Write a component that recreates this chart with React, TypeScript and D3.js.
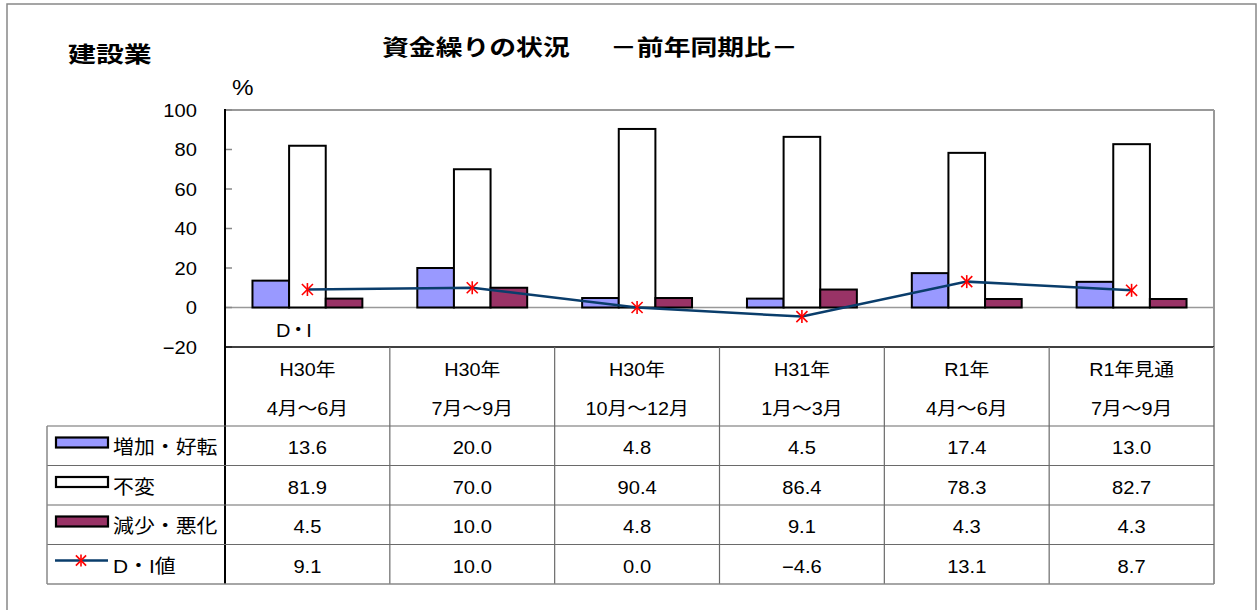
import React from "react";
import * as d3 from "d3";

// Quarter labels (two lines per column)
const periodYears = ["H30年", "H30年", "H30年", "H31年", "R1年", "R1年見通"];
const periodMonths = ["4月～6月", "7月～9月", "10月～12月", "1月～3月", "4月～6月", "7月～9月"];

// Series values (%)
const increase = [13.6, 20.0, 4.8, 4.5, 17.4, 13.0];
const unchanged = [81.9, 70.0, 90.4, 86.4, 78.3, 82.7];
const decrease = [4.5, 10.0, 4.8, 9.1, 4.3, 4.3];
const diValues = [9.1, 10.0, 0.0, -4.6, 13.1, 8.7];

const seriesNames = ["増加・好転", "不変", "減少・悪化", "D・I値"];
const yTicks = [-20, 0, 20, 40, 60, 80, 100];

const FONT = "'Liberation Sans', 'Noto Sans CJK JP', sans-serif";
const BLUE = "#9999FF";
const MAROON = "#993366";
const LINE = "#0A3D6B";
const MARK = "#FF0000";

const W = 1259;
const H = 610;
const plotLeft = 225;
const plotRight = 1214;
const plotTop = 110;
const plotBottom = 347;
const tableLeft = 47;
const headerBottom = 426;
const rowH = 39.5;

const fmt = (v: number) => (v < 0 ? "−" + Math.abs(v).toFixed(1) : v.toFixed(1));

type TProps = {
  x: number;
  y: number;
  size: number;
  anchor?: "start" | "middle" | "end";
  weight?: number | string;
  sx?: number;
  spacing?: number;
  children: React.ReactNode;
};

const T = ({ x, y, size, anchor = "middle", weight = 400, sx = 1.15, spacing = 0, children }: TProps) => (
  <text
    transform={`translate(${x},${y}) scale(${sx},1)`}
    fontSize={size}
    textAnchor={anchor}
    fontWeight={weight}
    fontFamily={FONT}
    letterSpacing={spacing}
    fill="#000"
  >
    {children}
  </text>
);

const Star = ({ x, y, r = 6.5 }: { x: number; y: number; r?: number }) => (
  <g transform={`translate(${x},${y})`} stroke={MARK} strokeWidth={1.6}>
    <line x1={-r * 0.85} y1={-r * 0.85} x2={r * 0.85} y2={r * 0.85} />
    <line x1={-r * 0.85} y1={r * 0.85} x2={r * 0.85} y2={-r * 0.85} />
    <line x1={0} y1={-r} x2={0} y2={r} />
  </g>
);

export default function App() {
  const idx = periodYears.map((_, i) => String(i));
  const x = d3.scaleBand<string>().domain(idx).range([plotLeft, plotRight]).paddingInner(0).paddingOuter(0);
  const y = d3.scaleLinear().domain([-20, 100]).range([plotBottom, plotTop]);
  const step = x.bandwidth();
  const bw = step / 4.5; // gap width 150%
  const groupOffset = bw * 0.75;
  const series = [
    { values: increase, fill: BLUE },
    { values: unchanged, fill: "#FFFFFF" },
    { values: decrease, fill: MAROON },
  ];
  const center = (i: number) => (x(String(i)) as number) + step / 2;
  const lineGen = d3
    .line<number>()
    .x((_, i) => center(i))
    .y((d) => y(d));

  const rowTops = [0, 1, 2, 3].map((k) => headerBottom + k * rowH);
  const tableBottom = headerBottom + 4 * rowH;
  const tableRows = [increase, unchanged, decrease, diValues];
  const gridColor = "#6a6a6a";

  return (
    <svg width={W} height={H} style={{ position: "absolute", left: 0, top: 0, background: "#fff" }}>
      {/* outer frame */}
      <rect x={7} y={4} width={1249} height={H} fill="#fff" stroke="#888" strokeWidth={1.5} />

      {/* titles */}
      <T x={68} y={62} size={22} anchor="start" weight={700} sx={1.27}>建設業</T>
      <T x={382} y={55} size={22} anchor="start" weight={700} sx={1.22}>資金繰りの状況</T>
      <T x={610} y={55} size={22} anchor="start" weight={700} sx={1.22}>－前年同期比－</T>
      <T x={232} y={95} size={22} anchor="start" sx={1.1}>%</T>

      {/* plot frame */}
      <line x1={plotLeft} x2={plotRight} y1={plotTop} y2={plotTop} stroke="#999" strokeWidth={2} />
      <line x1={plotRight} x2={plotRight} y1={plotTop} y2={plotBottom} stroke="#999" strokeWidth={2} />
      <line x1={plotLeft} x2={plotRight} y1={y(0)} y2={y(0)} stroke="#999" strokeWidth={1.5} />

      {/* y ticks and labels */}
      {yTicks.map((t) => (
        <g key={t}>
          <line x1={plotLeft} x2={plotLeft + 7} y1={y(t)} y2={y(t)} stroke="#888" strokeWidth={1.5} />
          <T x={197} y={y(t) + 6.5} size={18} anchor="end" sx={1.12}>
            {t < 0 ? "−" + Math.abs(t) : String(t)}
          </T>
        </g>
      ))}

      {/* bars */}
      {series.map((s, si) =>
        s.values.map((v, i) => {
          const bx = (x(String(i)) as number) + groupOffset + si * bw;
          const y0 = y(0);
          const y1 = y(v);
          return (
            <rect
              key={`${si}-${i}`}
              x={bx}
              y={Math.min(y0, y1)}
              width={bw}
              height={Math.abs(y0 - y1)}
              fill={s.fill}
              stroke="#000"
              strokeWidth={2}
            />
          );
        })
      )}

      {/* D・I line */}
      <path d={lineGen(diValues) || ""} fill="none" stroke={LINE} strokeWidth={2.5} />
      {diValues.map((v, i) => (
        <Star key={i} x={center(i)} y={y(v)} />
      ))}

      <T x={276} y={337} size={19} anchor="start" sx={1.05} spacing={-2}>D・I</T>

      {/* left axis + plot bottom */}
      <line x1={plotLeft} x2={plotLeft} y1={plotTop - 1} y2={tableBottom} stroke="#000" strokeWidth={2} />
      <line x1={plotLeft} x2={plotRight} y1={plotBottom} y2={plotBottom} stroke="#000" strokeWidth={1.5} />

      {/* data table */}
      {periodYears.map((_, i) => (
        <line
          key={`v${i}`}
          x1={(x(String(i)) as number) + step}
          x2={(x(String(i)) as number) + step}
          y1={plotBottom}
          y2={tableBottom}
          stroke={i === periodYears.length - 1 ? "#999" : gridColor}
          strokeWidth={i === periodYears.length - 1 ? 2 : 1.2}
        />
      ))}
      {rowTops.map((ry, k) => (
        <line key={`h${k}`} x1={tableLeft} x2={plotRight} y1={ry} y2={ry} stroke={gridColor} strokeWidth={1.2} />
      ))}
      <line x1={tableLeft} x2={plotRight} y1={tableBottom} y2={tableBottom} stroke="#888" strokeWidth={1.5} />
      <line x1={tableLeft} x2={tableLeft} y1={headerBottom} y2={tableBottom} stroke="#888" strokeWidth={1.5} />

      {/* column headers */}
      {periodYears.map((yr, i) => (
        <g key={`hd${i}`}>
          <T x={center(i)} y={376} size={18} sx={1.1}>{yr}</T>
          <T x={center(i)} y={415} size={18} sx={1.1}>{periodMonths[i]}</T>
        </g>
      ))}

      {/* legend keys and row labels */}
      {seriesNames.map((name, k) => {
        const ry = rowTops[k];
        return (
          <g key={`lg${k}`}>
            {k < 3 ? (
              <rect x={56} y={ry + 11.5} width={52} height={10} fill={series[k].fill} stroke="#000" strokeWidth={2.2} />
            ) : (
              <g>
                <line x1={55} x2={108} y1={ry + 16} y2={ry + 16} stroke={LINE} strokeWidth={2.5} />
                <Star x={81} y={ry + 16} r={6} />
              </g>
            )}
            <T x={113} y={ry + 28} size={19} anchor="start" sx={1.1}>{name}</T>
          </g>
        );
      })}

      {/* table values */}
      {tableRows.map((vals, k) =>
        vals.map((v, i) => (
          <T key={`c${k}-${i}`} x={center(i)} y={rowTops[k] + 28} size={18} sx={1.12}>
            {fmt(v)}
          </T>
        ))
      )}
    </svg>
  );
}
